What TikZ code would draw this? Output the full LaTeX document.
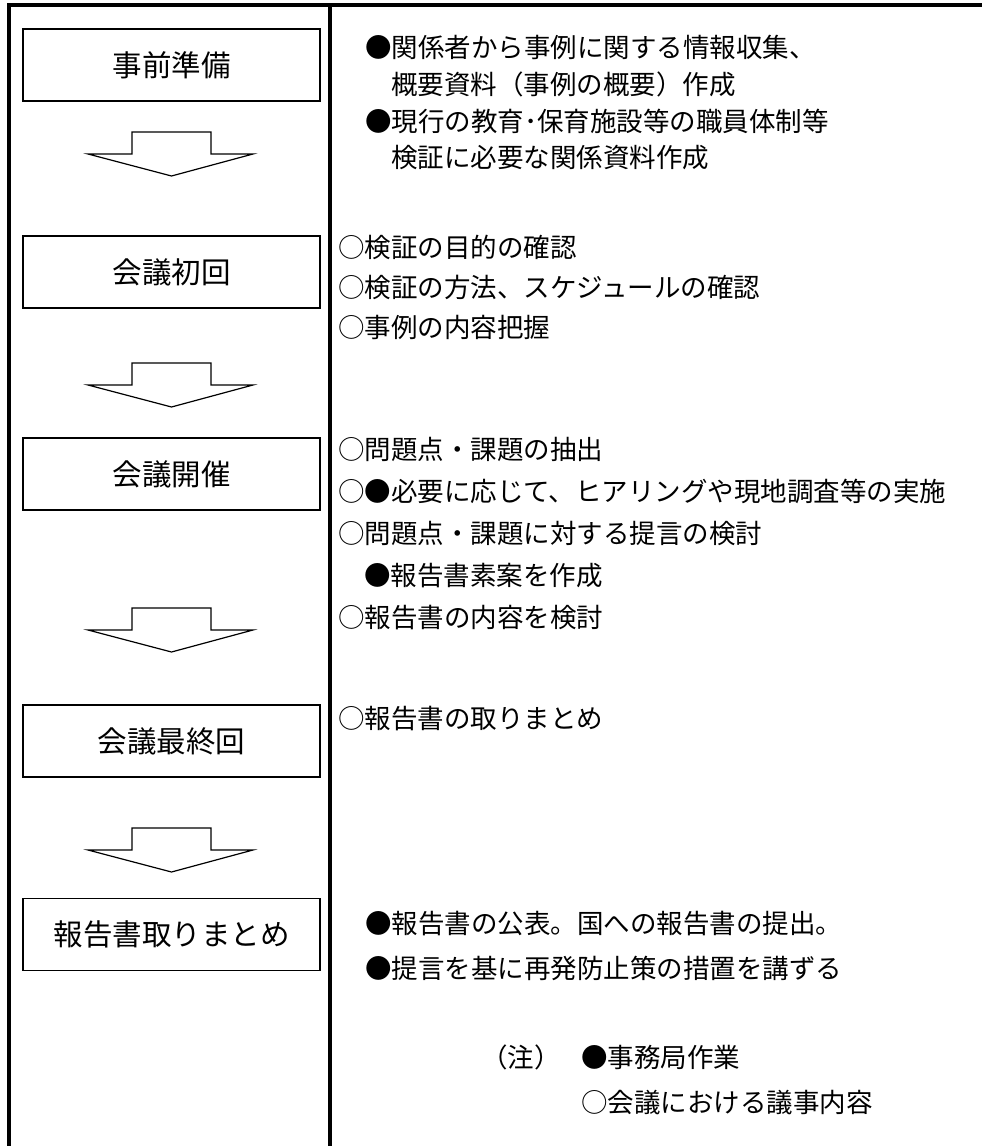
\documentclass[tikz,border=0pt]{standalone}
\usepackage{fontspec}
\setmainfont{Noto Sans CJK JP}
\newfontfamily\jpfont{Noto Sans CJK JP}
\begin{document}
\begin{tikzpicture}[x=1pt,y=-1pt,
  frame/.style={line width=4pt,line cap=rect},
  stepbox/.style={draw,line width=1.2pt,minimum width=297pt,minimum height=72pt,inner sep=0pt,font=\jpfont\fontsize{29.5}{32}\selectfont},
  note/.style={anchor=base west,inner sep=0pt,font=\jpfont\fontsize{26.5}{30}\selectfont},
  blockarrow/.pic={\draw[line width=1.2pt,line join=miter,fill=white] (-39.5,0) -- (39.5,0) -- (39.5,22) -- (81.5,22) -- (0,44) -- (-83.5,22) -- (-39.5,22) -- cycle;}]
\useasboundingbox (0,0) rectangle (982,1146);
% frame
\coordinate (tl) at (9,5);
\coordinate (tr) at (990,5);
\coordinate (bl) at (9,1150);
\coordinate (dt) at (330,5);
\coordinate (db) at (330,1150);
\draw[frame] (bl) -- (tl) -- (tr);
\draw[frame] (dt) -- (db);
% boxes
\node[stepbox] (b1) at (171.5,65) {事前準備};
\node[stepbox] (b2) at (171.5,272) {会議初回};
\node[stepbox] (b3) at (171.5,474) {会議開催};
\node[stepbox] (b4) at (171.5,741) {会議最終回};
\node[stepbox] (b5) at (171.5,934.5) {報告書取りまとめ};
% arrows
\pic at (171.5,132) {blockarrow};
\pic at (171.5,363) {blockarrow};
\pic at (171.5,608) {blockarrow};
\pic at (171.5,828) {blockarrow};
% right column (y = baseline)
\node[note] (t11) at (365,57) {●関係者から事例に関する情報収集、};
\node[note] (t12) at (391,94) {概要資料（事例の概要）作成};
\node[note] (t13) at (365,131) {●現行の教育･保育施設等の職員体制等};
\node[note] (t14) at (391,167) {検証に必要な関係資料作成};
\node[note] (t21) at (338,257) {○検証の目的の確認};
\node[note] (t22) at (338,297) {○検証の方法、スケジュールの確認};
\node[note] (t23) at (338,337) {○事例の内容把握};
\node[note] (t31) at (338,459) {○問題点・課題の抽出};
\node[note] (t32) at (338,501) {○●必要に応じて、ヒアリングや現地調査等の実施};
\node[note] (t33) at (338,543) {○問題点・課題に対する提言の検討};
\node[note] (t34) at (364,585) {●報告書素案を作成};
\node[note] (t35) at (338,627) {○報告書の内容を検討};
\node[note] (t41) at (338,728) {○報告書の取りまとめ};
\node[note] (t51) at (365,933) {●報告書の公表。国への報告書の提出。};
\node[note] (t52) at (365,978) {●提言を基に再発防止策の措置を講ずる};
\node[note,anchor=base] (n0) at (521,1067) {（注）};
\node[note] (n1) at (581,1067) {●事務局作業};
\node[note] (n2) at (581,1112) {○会議における議事内容};
\end{tikzpicture}
\end{document}
